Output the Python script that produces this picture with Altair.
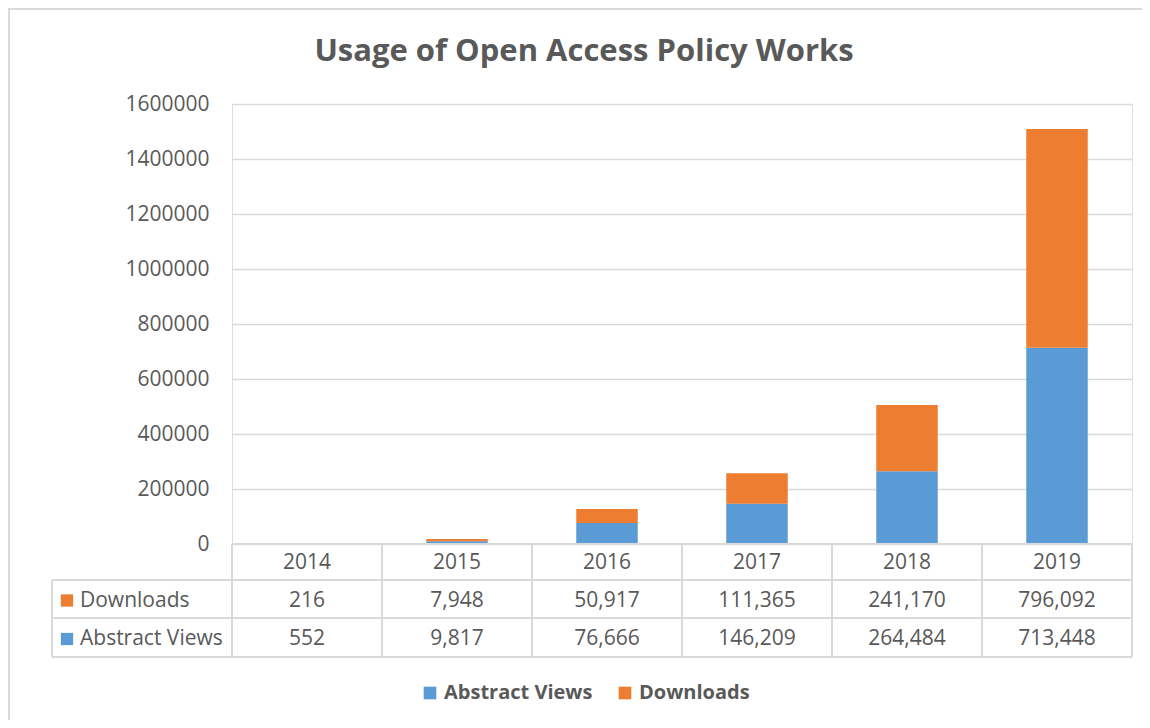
import altair as alt
import pandas as pd

# ---- data ----
years = ["2014", "2015", "2016", "2017", "2018", "2019"]
downloads = [216, 7948, 50917, 111365, 241170, 796092]
abstract_views = [552, 9817, 76666, 146209, 264484, 713448]
series_names = ["Abstract Views", "Downloads"]
y_ticks = [0, 200000, 400000, 600000, 800000, 1000000, 1200000, 1400000, 1600000]
title_text = "Usage of Open Access Policy Works"

BLUE = "#5b9bd5"
ORANGE = "#ed7d31"
GRID = "#d9d9d9"
TXT = "#595959"
FONT = "Open Sans"
FS = 21

rows = []
for y, a, d in zip(years, abstract_views, downloads):
    rows.append({"year": y, "series": "Abstract Views", "value": a, "ord": 0})
    rows.append({"year": y, "series": "Downloads", "value": d, "ord": 1})
df = pd.DataFrame(rows)
years_df = pd.DataFrame({"year": years})
one = pd.DataFrame({"k": [0]})

W, H = 900, 440
PL, PT, PR, PB = 224, 96, 10, 176

xscale = alt.Scale(domain=years, paddingInner=0.59, paddingOuter=0.295)

bars = alt.Chart(df).mark_bar().encode(
    x=alt.X("year:N", scale=xscale, axis=None),
    y=alt.Y(
        "value:Q",
        stack="zero",
        scale=alt.Scale(domain=[0, 1600000], nice=False),
        axis=alt.Axis(
            values=y_ticks, format="d", grid=True, gridColor=GRID, gridWidth=1.3,
            domain=False, ticks=False, labelPadding=23, labelFontSize=FS,
            labelFont=FONT, labelColor=TXT, title=None,
        ),
    ),
    color=alt.Color(
        "series:N",
        scale=alt.Scale(domain=series_names, range=[BLUE, ORANGE]),
        legend=alt.Legend(
            orient="none", legendX=188, legendY=579, direction="horizontal",
            title=None, symbolType="square", symbolSize=160, symbolStrokeWidth=0,
            symbolOpacity=1, labelFontSize=20, labelFont=FONT, labelFontWeight="bold",
            labelColor=TXT, labelOffset=4, columnPadding=22, padding=0,
        ),
    ),
    order=alt.Order("ord:Q"),
)

layers = [bars]

# title
layers.append(
    alt.Chart(pd.DataFrame({"t": [title_text]})).mark_text(
        font=FONT, fontSize=31, fontWeight="bold", color=TXT, align="center",
        baseline="alphabetic",
    ).encode(text="t:N", x=alt.value(352), y=alt.value(-43))
)

# table header (years)
layers.append(
    alt.Chart(years_df).mark_text(font=FONT, fontSize=FS, color=TXT, baseline="middle").encode(
        x=alt.X("year:N", scale=xscale, axis=None), y=alt.value(459), text="year:N"
    )
)

# table values
for name, ypos in [("Downloads", 496.5), ("Abstract Views", 535)]:
    layers.append(
        alt.Chart(df).transform_filter(alt.datum.series == name).mark_text(
            font=FONT, fontSize=FS, color=TXT, baseline="middle"
        ).encode(
            x=alt.X("year:N", scale=xscale, axis=None),
            y=alt.value(ypos),
            text=alt.Text("value:Q", format=","),
        )
    )

# table row labels + keys
for name, ypos, col in [("Downloads", 496.5, ORANGE), ("Abstract Views", 535, BLUE)]:
    layers.append(
        alt.Chart(pd.DataFrame({"s": [name]})).mark_text(
            font=FONT, fontSize=FS, color=TXT, baseline="middle", align="left"
        ).encode(text="s:N", x=alt.value(-152), y=alt.value(ypos))
    )
    layers.append(
        alt.Chart(one).mark_square(size=150, color=col, opacity=1).encode(
            x=alt.value(-165), y=alt.value(ypos)
        )
    )

# table lines
hlines = [(440, 0, W), (476, -180, W), (514, -180, W), (553, -180, W)]
for yv, x1, x2 in hlines:
    layers.append(
        alt.Chart(one).mark_rule(color=GRID, strokeWidth=2).encode(
            y=alt.value(yv), x=alt.value(x1), x2=alt.value(x2)
        )
    )
for i in range(len(years) + 1):
    layers.append(
        alt.Chart(one).mark_rule(color=GRID, strokeWidth=2).encode(
            x=alt.value(i * W / len(years)), y=alt.value(440), y2=alt.value(553)
        )
    )
layers.append(
    alt.Chart(one).mark_rule(color=GRID, strokeWidth=2).encode(
        x=alt.value(-180), y=alt.value(476), y2=alt.value(553)
    )
)

# outer chart border (left and top visible)
layers.append(
    alt.Chart(one).mark_rule(color=GRID, strokeWidth=2).encode(
        x=alt.value(-PL + 1), y=alt.value(-PT), y2=alt.value(H + PB)
    )
)
layers.append(
    alt.Chart(one).mark_rule(color=GRID, strokeWidth=2).encode(
        y=alt.value(-PT + 1), x=alt.value(-PL), x2=alt.value(W + PR)
    )
)

chart = alt.layer(*layers).properties(
    width=W,
    height=H,
    autosize=alt.AutoSizeParams(type="none"),
    padding={"left": PL, "top": PT, "right": PR, "bottom": PB},
).configure_view(stroke=None).configure(background="white")

chart.save("out.html", embed_options={"renderer": "svg", "actions": False})
